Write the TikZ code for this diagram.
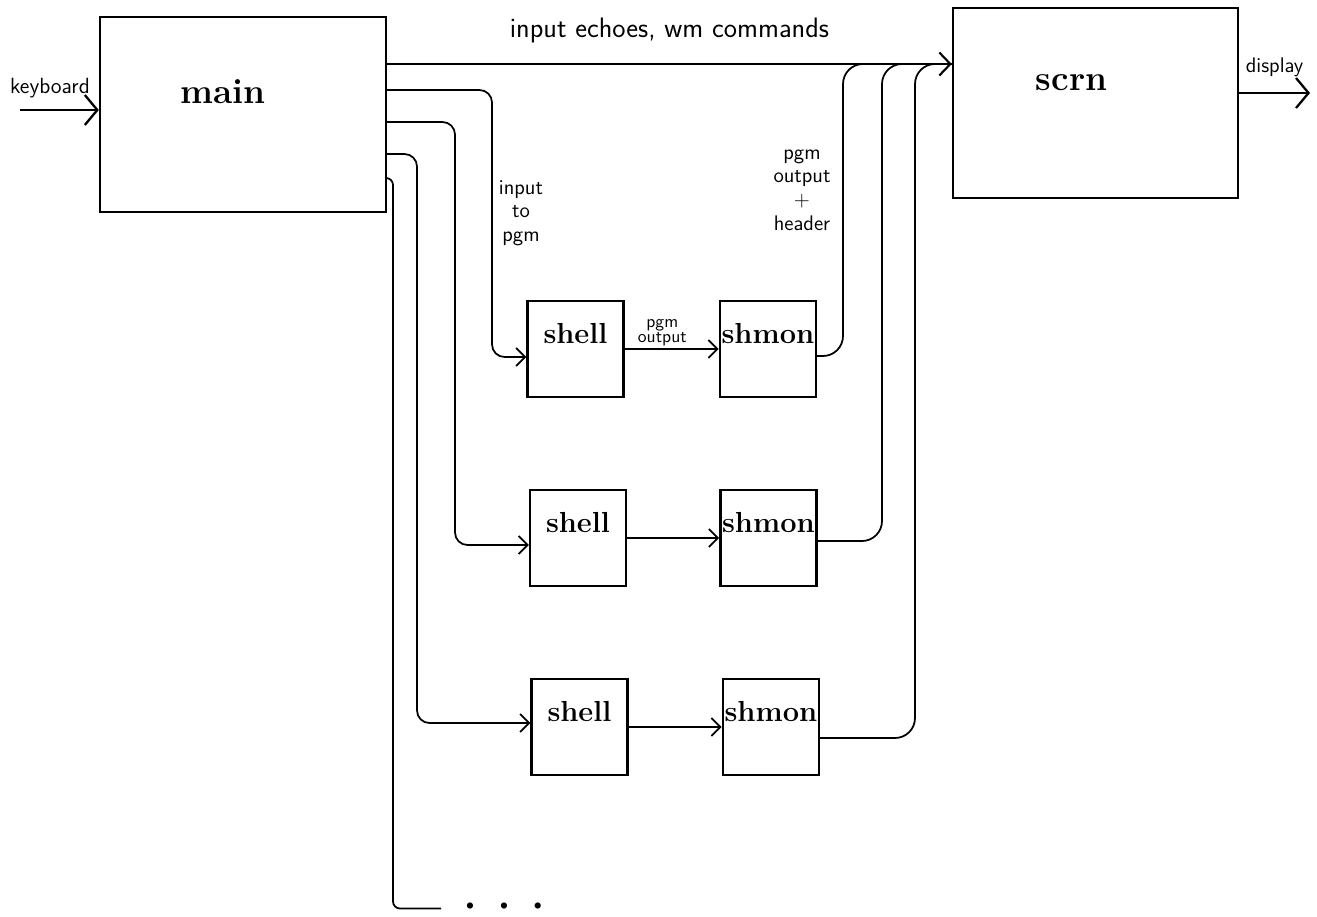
\documentclass[tikz,border=0pt]{standalone}
\usepackage{tikz}
\usetikzlibrary{positioning, arrows.meta, calc}
\tikzset{
    unit/.style={rectangle, draw=black, line width=1.4pt, inner xsep=0pt, inner ysep=0pt},
    note/.style={font=\fontsize{12}{13}\selectfont\sffamily, align=center, inner sep=1pt}
}

\begin{document}
\begin{tikzpicture}[
		x=0.02cm, y=-0.02cm,
		% Hộp lớn (main, scrn)
		bigbox/.style={
			unit,
			minimum width=5.72cm,
			font=\fontsize{20}{24}\selectfont\bfseries
		},
		% Hộp nhỏ (shell, shmon)
		smallbox/.style={
			unit,
			minimum width=1.92cm,
			text height=0.84cm,
			text depth=1.08cm,
			font=\fontsize{16.5}{20}\selectfont\bfseries
		},
		% Mũi tên vào / ra
		io-arrow/.style={
			-{Straight Barb[length=2.5mm,width=6mm]},
			line width=1.3pt
		},
		top-arrow/.style={
			-{Straight Barb[length=2.2mm,width=4.6mm]},
			line width=1.2pt
		},
		% Đường đến shell
		feed-line/.style={
			-{Straight Barb[length=1.8mm,width=3.6mm]},
			line width=1pt,
			rounded corners=0.25cm
		},
		% Đường gom về scrn
		merge-line/.style={
			line width=1pt,
			rounded corners=0.4cm
		},
		more-line/.style={
			line width=1pt,
			rounded corners=0.14cm
		}
		]
		\useasboundingbox (0,0) rectangle (1317,916);
		
		% Các hộp
		\node (main) [bigbox, text height=1.72cm, text depth=2.18cm] at (243,114.5) {main\hspace*{0.8cm}};
		\node (scrn) [bigbox, minimum width=5.7cm, text height=1.64cm, text depth=2.16cm] at (1095.5,103) {scrn\hspace*{0.96cm}};
		
		\node (shell1) [smallbox] at (575.5,349) {shell};
		\node (shmon1) [smallbox, right=1.88cm of shell1] {shmon};
		\node (shell2) [smallbox] at (578,538) {shell};
		\node (shmon2) [smallbox, right=1.84cm of shell2] {shmon};
		\node (shell3) [smallbox] at (579.5,727) {shell};
		\node (shmon3) [smallbox, right=1.86cm of shell3] {shmon};
		
		\node (more) [font=\fontsize{13}{14}\selectfont, inner sep=0pt] at (504,907) {\textbullet\hspace{0.33cm}\textbullet\hspace{0.33cm}\textbullet};
		
		% Điểm phụ
		\coordinate (kbd) at (20,110);
		\coordinate (disp) at (1310,93);
		\coordinate (scrnin) at (scrn.west |- 0,64);
		\coordinate (busA) at (492,0);
		\coordinate (busB) at (455,0);
		\coordinate (busC) at (417,0);
		\coordinate (busD) at (393,0);
		\coordinate (outA) at (843,0);
		\coordinate (outB) at (882,0);
		\coordinate (outC) at (915,0);
		
		% Vào / ra
		\draw [io-arrow] (kbd) -- (kbd -| main.west) node[note, pos=0.38, above=0.18cm, font=\fontsize{12.5}{14}\selectfont\sffamily] {keyboard};
		\draw [io-arrow] (scrn.east |- disp) -- (disp) node[note, midway, above=0.26cm] {display};
		\draw [top-arrow] (main.east |- scrnin) -- (scrnin) node[note, midway, above=0.36cm, font=\fontsize{16}{17}\selectfont\sffamily] {input echoes, wm commands};
		
		% main -> shell
		\draw [feed-line] (main.east |- 0,90) -| ([yshift=-0.16cm]busA |- shell1.west) -- ([yshift=-0.16cm]shell1.west);
		\draw [feed-line] (main.east |- 0,122) -| ([yshift=-0.14cm]busB |- shell2.west) -- ([yshift=-0.14cm]shell2.west);
		\draw [feed-line] (main.east |- 0,154) -| ([yshift=0.08cm]busC |- shell3.west) -- ([yshift=0.08cm]shell3.west);
		\draw [more-line] (main.east |- 0,178) -| ([yshift=-0.03cm]busD |- more.west) -- ([xshift=-0.4cm, yshift=-0.03cm]more.west);
		
		% shell -> shmon
		\draw [feed-line] (shell1.east) -- (shell1.east -| shmon1.west) node[note, pos=0.4, above, font=\fontsize{10}{9}\selectfont\sffamily] {pgm\\output};
		\draw [feed-line] (shell2.east) -- (shell2.east -| shmon2.west);
		\draw [feed-line] (shell3.east) -- (shell3.east -| shmon3.west);
		
		% shmon -> scrn
		\draw [merge-line] ([yshift=-0.14cm]shmon1.east) -| (outA |- scrnin) -- (scrnin);
		\draw [merge-line] ([yshift=-0.06cm]shmon2.east) -| (outB |- scrnin) -- (scrnin);
		\draw [merge-line] ([yshift=-0.22cm]shmon3.east) -| (outC |- scrnin) -- (scrnin);
		
		% Chú thích
		\node (inlbl) [note, font=\fontsize{12}{13.5}\selectfont\sffamily] at (521,213) {input\\to\\pgm};
		\node (outlbl) [note, font=\fontsize{12}{13.5}\selectfont\sffamily] at (802,190) {pgm\\output\\+\\header};
		
	\end{tikzpicture}
\end{document}
